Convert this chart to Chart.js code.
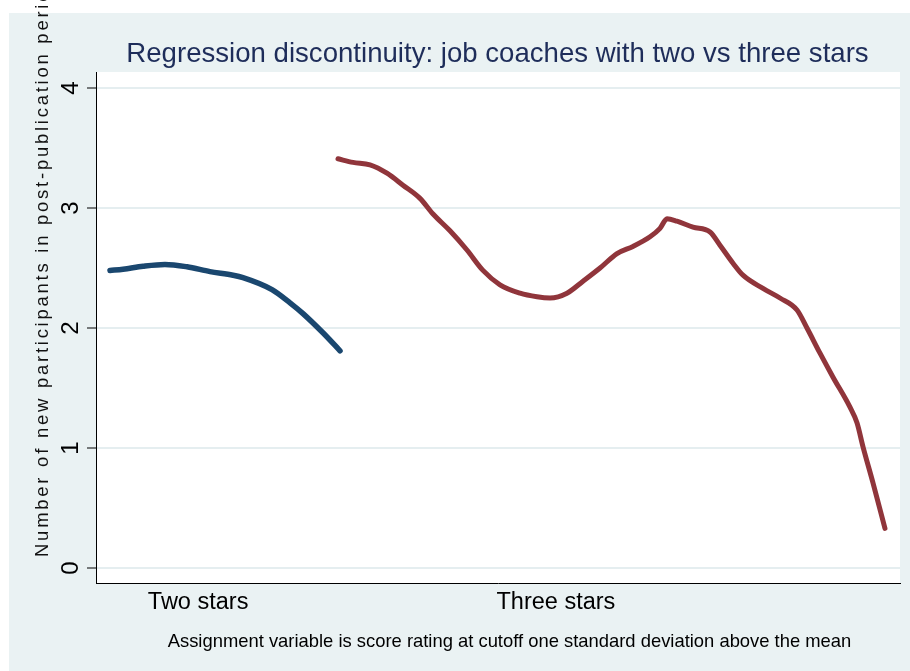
<!DOCTYPE html>
<html><head><meta charset="utf-8">
<script src="https://cdn.jsdelivr.net/npm/chart.js@4/dist/chart.umd.min.js"></script>
<style>html,body{margin:0;padding:0;background:#fff}#wrap{width:910px;height:671px;position:relative}</style>
</head><body><div id="wrap"><canvas id="c" width="910" height="671"></canvas></div>
<script>
// ---- data ----
const titleText = 'Regression discontinuity: job coaches with two vs three stars';
const noteText = 'Assignment variable is score rating at cutoff one standard deviation above the mean';
const yTitle = 'Number of new participants in post-publication period';
const yTicks = [0, 1, 2, 3, 4];
const xTickValues = [12.7, 57.2];
const xTickLabels = ['Two stars', 'Three stars'];

const twoStarX = [1.74, 3.36, 5.85, 8.58, 11.32, 14.18, 17.04, 18.28, 21.89, 24.13, 25.75, 28.23, 30.35];
const twoStarY = [2.48, 2.49, 2.515, 2.53, 2.51, 2.47, 2.44, 2.42, 2.32, 2.21, 2.12, 1.96, 1.81];

const threeStarX = [30.10, 31.97, 34.08, 36.19, 38.18, 40.30, 41.92, 44.03, 46.14, 48.13, 50.25, 52.74, 54.85, 56.47, 58.58, 60.57, 62.69, 64.80, 66.79, 68.91, 70.15, 71.02, 72.26, 74.25, 76.37, 77.61, 79.23, 80.47, 82.96, 85.07, 87.19, 88.43, 90.05, 91.67, 93.78, 94.65, 95.40, 96.64, 98.13];
const threeStarY = [3.41, 3.38, 3.36, 3.29, 3.19, 3.08, 2.95, 2.81, 2.65, 2.48, 2.36, 2.29, 2.26, 2.25, 2.29, 2.39, 2.50, 2.62, 2.68, 2.76, 2.83, 2.91, 2.89, 2.84, 2.80, 2.69, 2.54, 2.44, 2.33, 2.25, 2.15, 2.00, 1.79, 1.59, 1.34, 1.21, 1.01, 0.71, 0.33];

const FONT = '"Liberation Sans", Arial, Helvetica, sans-serif';
const toPts = (xs, ys) => xs.map((x, i) => ({x: x, y: ys[i]}));

const framePlugin = {
  id: 'frame',
  beforeDraw(chart) {
    const {ctx, chartArea: a} = chart;
    ctx.save();
    ctx.fillStyle = '#ffffff';
    ctx.fillRect(0, 0, chart.width, chart.height);
    ctx.fillStyle = '#eaf2f3';
    ctx.fillRect(9, 13, chart.width - 9, chart.height - 13);
    ctx.fillStyle = '#ffffff';
    ctx.fillRect(a.left, a.top, a.right - a.left, a.bottom - a.top);
    ctx.restore();
  },
  afterDraw(chart) {
    const ctx = chart.ctx;
    ctx.save();
    // title
    ctx.font = '27.6px ' + FONT;
    ctx.fillStyle = '#1e2d5a';
    ctx.textAlign = 'center';
    ctx.textBaseline = 'alphabetic';
    ctx.fillText(titleText, 497.5, 62);
    // note
    ctx.font = '18.4px ' + FONT;
    ctx.fillStyle = '#000000';
    ctx.fillText(noteText, 509.5, 647);
    // y title
    ctx.font = '18.5px ' + FONT;
    ctx.fillStyle = '#111111';
    ctx.textAlign = 'left';
    const visible = yTitle.slice(0, 51);
    const w0 = ctx.measureText(visible).width;
    const ls = Math.max(0, (555 - w0) / visible.length);
    if ('letterSpacing' in ctx) ctx.letterSpacing = ls.toFixed(2) + 'px';
    ctx.translate(48, 557);
    ctx.rotate(-Math.PI / 2);
    ctx.fillText(yTitle, 0, 0);
    ctx.restore();
  }
};

new Chart(document.getElementById('c'), {
  type: 'line',
  data: {
    datasets: [
      {label: 'Two stars', data: toPts(twoStarX, twoStarY), borderColor: '#1a476f', borderWidth: 5.5,
       pointRadius: 0, cubicInterpolationMode: 'monotone', borderCapStyle: 'round', borderJoinStyle: 'round', fill: false},
      {label: 'Three stars', data: toPts(threeStarX, threeStarY), borderColor: '#90353b', borderWidth: 5,
       pointRadius: 0, cubicInterpolationMode: 'monotone', borderCapStyle: 'round', borderJoinStyle: 'round', fill: false}
    ]
  },
  options: {
    responsive: false,
    devicePixelRatio: 1,
    animation: false,
    layout: {padding: {top: 72, right: 10, left: 0, bottom: 0}},
    plugins: {legend: {display: false}, tooltip: {enabled: false}, title: {display: false}},
    scales: {
      x: {
        type: 'linear', position: 'bottom', min: 0, max: 100,
        afterBuildTicks(s) { s.ticks = xTickValues.map(v => ({value: v})); },
        afterFit(s) { s.height = 88; },
        grid: {display: false, drawTicks: false},
        border: {display: true, color: '#000000', width: 1},
        ticks: {autoSkip: false, maxRotation: 0, minRotation: 0, padding: 5, color: '#000000',
                font: {family: FONT, size: 23.5},
                callback: (v, i) => xTickLabels[i]}
      },
      y: {
        type: 'linear', position: 'left', min: -0.125, max: 4.1333,
        afterBuildTicks(s) { s.ticks = yTicks.map(v => ({value: v})); },
        afterFit(s) { s.width = 96; },
        grid: {color: '#e5eef0', lineWidth: 2, drawTicks: true, tickLength: 9, tickColor: '#000000', tickWidth: 1},
        border: {display: true, color: '#000000', width: 1},
        ticks: {color: '#000000', font: {family: FONT, size: 24}, minRotation: 90, maxRotation: 90,
                crossAlign: 'center', padding: 9, callback: v => String(v)}
      }
    }
  },
  plugins: [framePlugin]
});
</script>
</body></html>
